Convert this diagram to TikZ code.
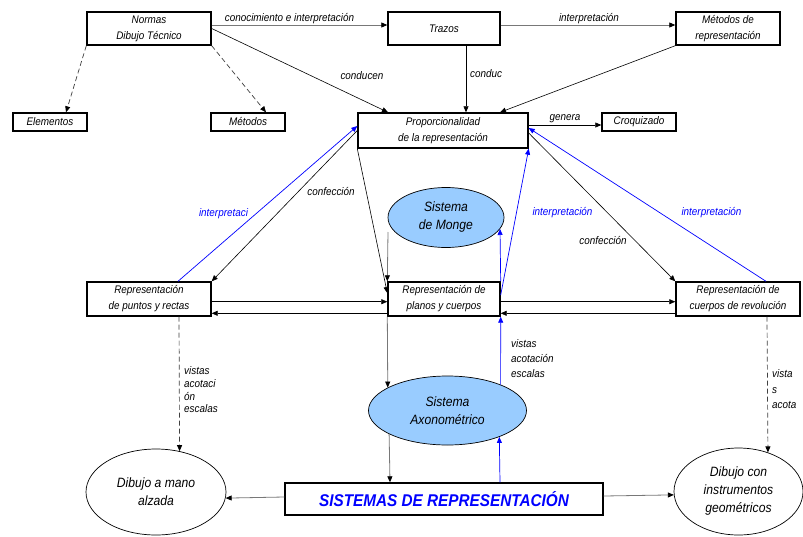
\documentclass[tikz,border=0pt]{standalone}
\usepackage{fontspec}
\setmainfont{Liberation Sans}[FakeStretch=0.9]
\usetikzlibrary{arrows.meta,shapes.geometric}
\definecolor{bl}{RGB}{0,0,255}
\definecolor{lb}{RGB}{153,204,255}
\definecolor{gr}{RGB}{120,120,120}
\begin{document}
\begin{tikzpicture}[x=1pt,y=-1pt,
  box/.style={draw, line width=1.4pt, inner sep=0pt, align=center, font=\fontsize{11}{16}\selectfont\itshape},
  ell/.style={ellipse, draw, line width=0.7pt, inner sep=0pt, align=center, font=\fontsize{13.5}{18}\selectfont\itshape},
  lbl/.style={inner sep=0pt, font=\fontsize{11}{14}\selectfont\itshape},
  con/.style={line width=0.6pt, -{Triangle[length=6pt,width=5pt]}},
  gcon/.style={line width=0.8pt, draw=gr, -{Triangle[length=6pt,width=5pt,color=black]}},
  bcon/.style={line width=0.7pt, color=bl, -{Triangle[length=6pt,width=5pt]}},
  dcon/.style={line width=0.7pt, draw=black!75, dash pattern=on 5pt off 3pt, -{Triangle[length=6pt,width=5pt,color=black]}}
]
\fill[white] (0,0) rectangle (803,536);
\useasboundingbox (0,0) rectangle (803,536);

% nodes
\node[box, minimum width=124pt, minimum height=33pt] (normas) at (149,28.5) {Normas\\Dibujo Técnico};
\node[box, minimum width=112pt, minimum height=33pt] (trazos) at (444,28.5) {Trazos};
\node[box, minimum width=104pt, minimum height=33pt] (metrep) at (728,28.5) {Métodos de\\representación};
\node[box, minimum width=74pt, minimum height=18pt] (elem) at (50,122) {Elementos};
\node[box, minimum width=74pt, minimum height=18pt] (metodos) at (248,122) {Métodos};
\node[box, minimum width=170pt, minimum height=35pt] (prop) at (443,130.5) {Proporcionalidad\\de la representación};
\node[box, minimum width=74pt, minimum height=18pt] (croq) at (639,122) {Croquizado};
\node[ell, fill=lb, minimum width=116pt, minimum height=60pt] (monge) at (446,217.5) {Sistema\\de Monge};
\node[box, minimum width=124pt, minimum height=34pt] (puntos) at (149,299) {Representación\\de puntos y rectas};
\node[box, minimum width=112pt, minimum height=34pt] (planos) at (444,299) {Representación de\\planos y cuerpos};
\node[box, minimum width=124pt, minimum height=34pt] (revol) at (738,299) {Representación de\\cuerpos de revolución};
\node[ell, fill=lb, minimum width=158pt, minimum height=69pt] (axono) at (447.5,410.5) {Sistema\\Axonométrico};
\node[box, minimum width=318pt, minimum height=32pt, text=bl, font=\fontsize{17}{20}\selectfont\bfseries\itshape] (sist) at (444,499) {SISTEMAS DE REPRESENTACIÓN};
\node[ell, minimum width=140pt, minimum height=86pt] (mano) at (156,492) {Dibujo a mano\\alzada};
\node[ell, minimum width=129pt, minimum height=87pt] (instr) at (738.5,491.5) {Dibujo con\\instrumentos\\geométricos};

% top connectors
\draw[gcon] ([yshift=3.5pt]normas.east) -- ([yshift=3.5pt]trazos.west);
\node[lbl] (l1) at (289.5,19) {conocimiento e interpretación};
\draw[gcon] ([yshift=3.5pt]trazos.east) -- ([yshift=3.5pt]metrep.west);
\node[lbl] (l2) at (589,19) {interpretación};
\draw[con] (normas.east) -- ([xshift=-55pt]prop.north);
\node[lbl] (l3) at (362,76) {conducen};
\draw[con] ([xshift=22pt]trazos.south) -- ([xshift=23pt]prop.north);
\node[lbl, anchor=west] (l4) at (470,74) {conduc};
\draw[con] (metrep.south west) -- ([xshift=57pt]prop.north);
\draw[con] ([yshift=5.5pt]prop.east) -- ([yshift=-3pt]croq.west);
\node[lbl] (l5) at (565,119) {genera};
\draw[dcon] (normas.south west) -- ([xshift=16pt]elem.north);
\draw[dcon] (normas.south east) -- ([xshift=18pt]metodos.north);

% middle
\draw[con] (prop.west) -- (puntos.north east);
\node[lbl] (l6) at (331,191) {confección};
\draw[bcon] ([xshift=29pt]puntos.north) -- ([yshift=4.5pt]prop.west);
\node[lbl, text=bl] (l7) at (223.5,214) {interpretaci};
\draw[con] (prop.south west) -- ([yshift=6pt]planos.west);
\coordinate (mg) at (388,232);
\draw[gcon] (mg) -- (planos.north west);
\draw[gcon] (planos.south west) -- (axono.159.3);
\draw[gcon] (axono.202.4) -- ([xshift=-54pt]sist.north);

\draw[bcon] (planos.north east) -- (monge.348.6);
\draw[bcon] (axono.26.2) -- (planos.south east);
\draw[bcon] ([xshift=56pt]sist.north) -- (axono.333.8);
\node[lbl, anchor=west, align=left, font=\fontsize{11}{15}\selectfont\itshape] (l8) at (511,359) {vistas\\acotación\\escalas};
\draw[bcon] ([yshift=4pt]planos.east) -- (prop.south east);
\node[lbl, text=bl] (l9) at (562.5,213) {interpretación};
\draw[con] ([yshift=-2.5pt]prop.east) -- (revol.north west);
\node[lbl] (l10) at (603,240) {confección};
\draw[bcon] ([xshift=28pt]revol.north) -- ([yshift=2.5pt]prop.east);
\node[lbl, text=bl] (l11) at (711.5,213) {interpretación};

\draw[con] ([yshift=-2.7pt]puntos.east) -- ([yshift=-2.7pt]planos.west);
\draw[con] ([yshift=-14.3pt]planos.west) -- ([yshift=-14.3pt]puntos.east);
\draw[con] ([yshift=-2.7pt]planos.east) -- ([yshift=-2.7pt]revol.west);
\draw[con] ([yshift=-14.3pt]revol.west) -- ([yshift=-14.3pt]planos.east);

% lower
\draw[dcon] ([xshift=30pt]puntos.south) -- (mano.60.5);
\node[lbl, anchor=west, align=left, font=\fontsize{11}{12.7}\selectfont\itshape] (l12) at (184,390) {vistas\\acotaci\\ón\\escalas};
\draw[dcon] ([xshift=29pt]revol.south) -- (instr.53.8);
\node[lbl, anchor=west, align=left, font=\fontsize{11}{15.5}\selectfont\itshape] (l13) at (772,389.5) {vista\\s\\acota};

\draw[gcon] ([yshift=2pt]sist.west) -- (mano.355.9);
\draw[gcon] ([yshift=3pt]sist.east) -- (instr.183.7);
\end{tikzpicture}
\end{document}
